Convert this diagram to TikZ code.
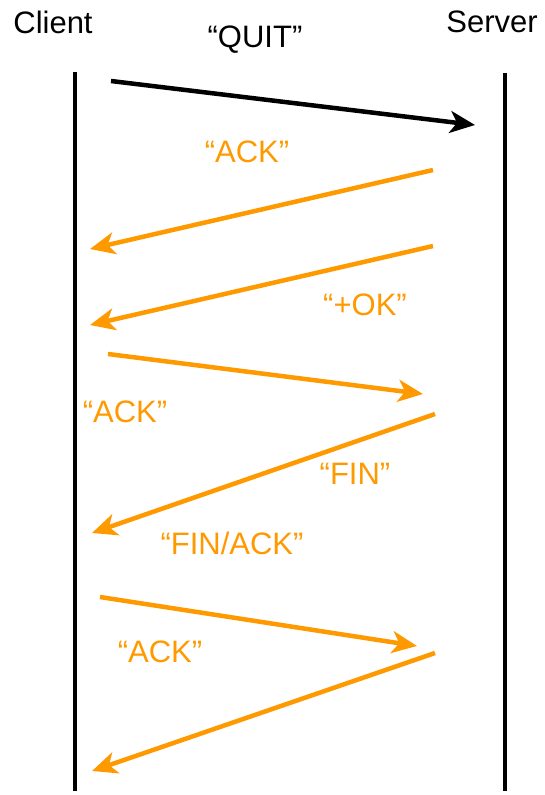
\documentclass[tikz,border=0pt]{standalone}
\usepackage{fontspec}
\setmainfont{Liberation Sans}
\usetikzlibrary{arrows.meta}
\definecolor{msgorange}{RGB}{255,153,0}

\begin{document}
\begin{tikzpicture}[x=1pt,y=-1pt,font=\fontsize{31}{37}\selectfont,
    lifeline/.style={line width=4pt},
    msg/.style={line width=4.5pt,-{Stealth[length=25pt,width=22pt,inset=7pt]}}]
  \useasboundingbox (0,0) rectangle (544,795);
  \newcommand{\drawMsg}[7]{ \def\n{#1}; \coordinate (\n s) at (#2);
    \coordinate (\n e) at (#3); \draw [msg,#4] (\n s) -- (\n e);
    \node [text=#4] (\n l) at (#5) {#6#7}; };
  % the two lifelines
  \node (client) at (53,22) {Client};
  \node (server) at (492,22) {Server};
  \coordinate (ctop) at (75,72); \coordinate (cbot) at (75,791);
  \coordinate (stop) at (505,73); \coordinate (sbot) at (505,791);
  \draw [lifeline] (ctop) -- (cbot);
  \draw [lifeline] (stop) -- (sbot);
  \drawMsg{quit}{111,81}{475,125}{black}{255,40}{``QUIT''}{}
  \drawMsg{ackA}{433,170}{90,249}{msgorange}{247,152}{``ACK''}{}
  \drawMsg{ok}{433,246}{90,325}{msgorange}{365,305}{``+OK''}{}
  \drawMsg{ackB}{108,354}{423,394}{msgorange}{125,412}{``ACK''}{}
  \drawMsg{fin}{435,414}{92,533}{msgorange}{355,474}{``FIN''}{}
  \node [text=msgorange] (finack) at (232,543) {``FIN/ACK''};
  \drawMsg{ackC}{100,597}{417,646}{msgorange}{160,652}{``ACK''}{}
  \coordinate (lasts) at (435,653); \coordinate (laste) at (92,771);
  \draw [msg,msgorange] (lasts) -- (laste);
\end{tikzpicture}
\end{document}
